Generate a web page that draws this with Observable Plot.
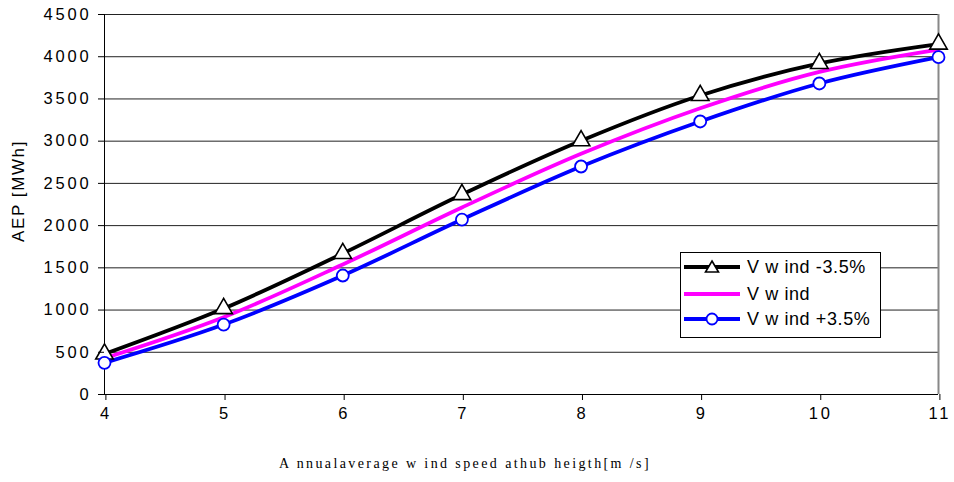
<!DOCTYPE html>
<html><head><meta charset="utf-8">
<script src="https://cdn.jsdelivr.net/npm/d3@7"></script>
<script src="https://cdn.jsdelivr.net/npm/@observablehq/plot@0.6"></script>
<style>
body{margin:0;background:#fff;}
#wrap{position:relative;width:954px;height:482px;font-family:Arial,"Liberation Sans",sans-serif;}
#wrap svg g[aria-label="y-axis tick label"] text, #wrap svg g[aria-label="x-axis tick label"] text{letter-spacing:2.8px;}
#wrap svg g[aria-label="text"] text{letter-spacing:1.6px;}
#legend{position:absolute;left:680px;top:252px;width:201px;height:86px;background:#fff;border:1.5px solid #000;box-sizing:border-box;}
.row{position:absolute;left:2px;height:24px;display:flex;align-items:center;font-size:18px;letter-spacing:0.6px;white-space:pre;}
.row svg{margin-right:6px;}
#xlabel{position:absolute;left:-12px;width:954px;top:456px;text-align:center;font-family:"Liberation Serif",serif;font-size:14px;letter-spacing:2.4px;white-space:pre;}
</style>
</head><body>
<div id="wrap"></div>
<script>
const speeds = [4, 5, 6, 7, 8, 9, 10, 11];
const aepMinus = [480, 1018, 1670, 2368, 3005, 3541, 3920, 4150];
const aepBase = [430, 915, 1540, 2215, 2850, 3390, 3820, 4085];
const aepPlus = [375, 828, 1409, 2072, 2700, 3233, 3683, 3995];
const seriesNames = ["V w ind -3.5%", "V w ind", "V w ind +3.5%"];
const seriesColors = ["#000000", "#ff00ff", "#0000ff"];
const yTicks = [0, 500, 1000, 1500, 2000, 2500, 3000, 3500, 4000, 4500];
const xTicks = [4, 5, 6, 7, 8, 9, 10, 11];
const yLabel = "AEP [MWh]";
const xLabel = "A nnualaverage w ind speed athub heigth[m /s]";

const mk = (vals) => speeds.map((s, i) => ({x: s, y: vals[i]}));
const dMinus = mk(aepMinus), dBase = mk(aepBase), dPlus = mk(aepPlus);

const chart = Plot.plot({
  width: 954, height: 440,
  marginLeft: 104, marginRight: 16, marginTop: 14, marginBottom: 46,
  style: {fontFamily: "Arial, 'Liberation Sans', sans-serif", fontSize: "16px", color: "#000", background: "#fff"},
  x: {domain: [4, 11], label: null},
  y: {domain: [0, 4500], label: null},
  marks: [
    Plot.gridY(yTicks, {stroke: "#222", strokeOpacity: 1, strokeWidth: 1}),
    Plot.ruleX([11], {stroke: "#888", strokeWidth: 2}),
    Plot.ruleX([4], {stroke: "#000", strokeWidth: 1}),
    Plot.ruleY([0], {stroke: "#000", strokeWidth: 1}),
    Plot.line(dBase, {x: "x", y: "y", stroke: seriesColors[1], strokeWidth: 3.8, curve: "catmull-rom"}),
    Plot.line(dPlus, {x: "x", y: "y", stroke: seriesColors[2], strokeWidth: 3.8, curve: "catmull-rom"}),
    Plot.line(dMinus, {x: "x", y: "y", stroke: seriesColors[0], strokeWidth: 3.8, curve: "catmull-rom"}),
    Plot.dot(dMinus, {x: "x", y: "y", symbol: "triangle", r: 6.5, fill: "#fff", stroke: "#000", strokeWidth: 1.6}),
    Plot.dot(dPlus, {x: "x", y: "y", symbol: "circle", r: 6, fill: "#fff", stroke: "#0000ff", strokeWidth: 1.8}),
    Plot.axisY({ticks: yTicks, tickSize: 6, tickPadding: 7, fontSize: 16.5, tickFormat: d => String(d), label: null}),
    Plot.axisX({ticks: xTicks, tickSize: 6, tickPadding: 7, fontSize: 16.5, tickFormat: d => String(d), label: null, dx: 1.4}),
    Plot.text([yLabel], {x: () => 4, y: () => 2410, dx: -86, rotate: -90, fontSize: 17})
  ]
});
const wrap = document.getElementById("wrap");
wrap.appendChild(chart);

const lg = document.createElement("div");
lg.id = "legend";
const rowsTop = [2, 29, 54];
seriesNames.forEach((n, i) => {
  const r = document.createElement("div");
  r.className = "row";
  r.style.top = rowsTop[i] + "px";
  let marker = "";
  if (i === 0) marker = '<path d="M29,6 L35.5,17 L22.5,17 Z" fill="#fff" stroke="#000" stroke-width="1.6"/>';
  if (i === 2) marker = '<circle cx="29" cy="12" r="5.5" fill="#fff" stroke="#0000ff" stroke-width="1.8"/>';
  r.innerHTML = `<svg width="58" height="24"><line x1="1" x2="57" y1="12" y2="12" stroke="${seriesColors[i]}" stroke-width="3.8"/>${marker}</svg><span>${n}</span>`;
  lg.appendChild(r);
});
wrap.appendChild(lg);

const xl = document.createElement("div");
xl.id = "xlabel";
xl.textContent = xLabel;
wrap.appendChild(xl);
</script>
</body></html>
